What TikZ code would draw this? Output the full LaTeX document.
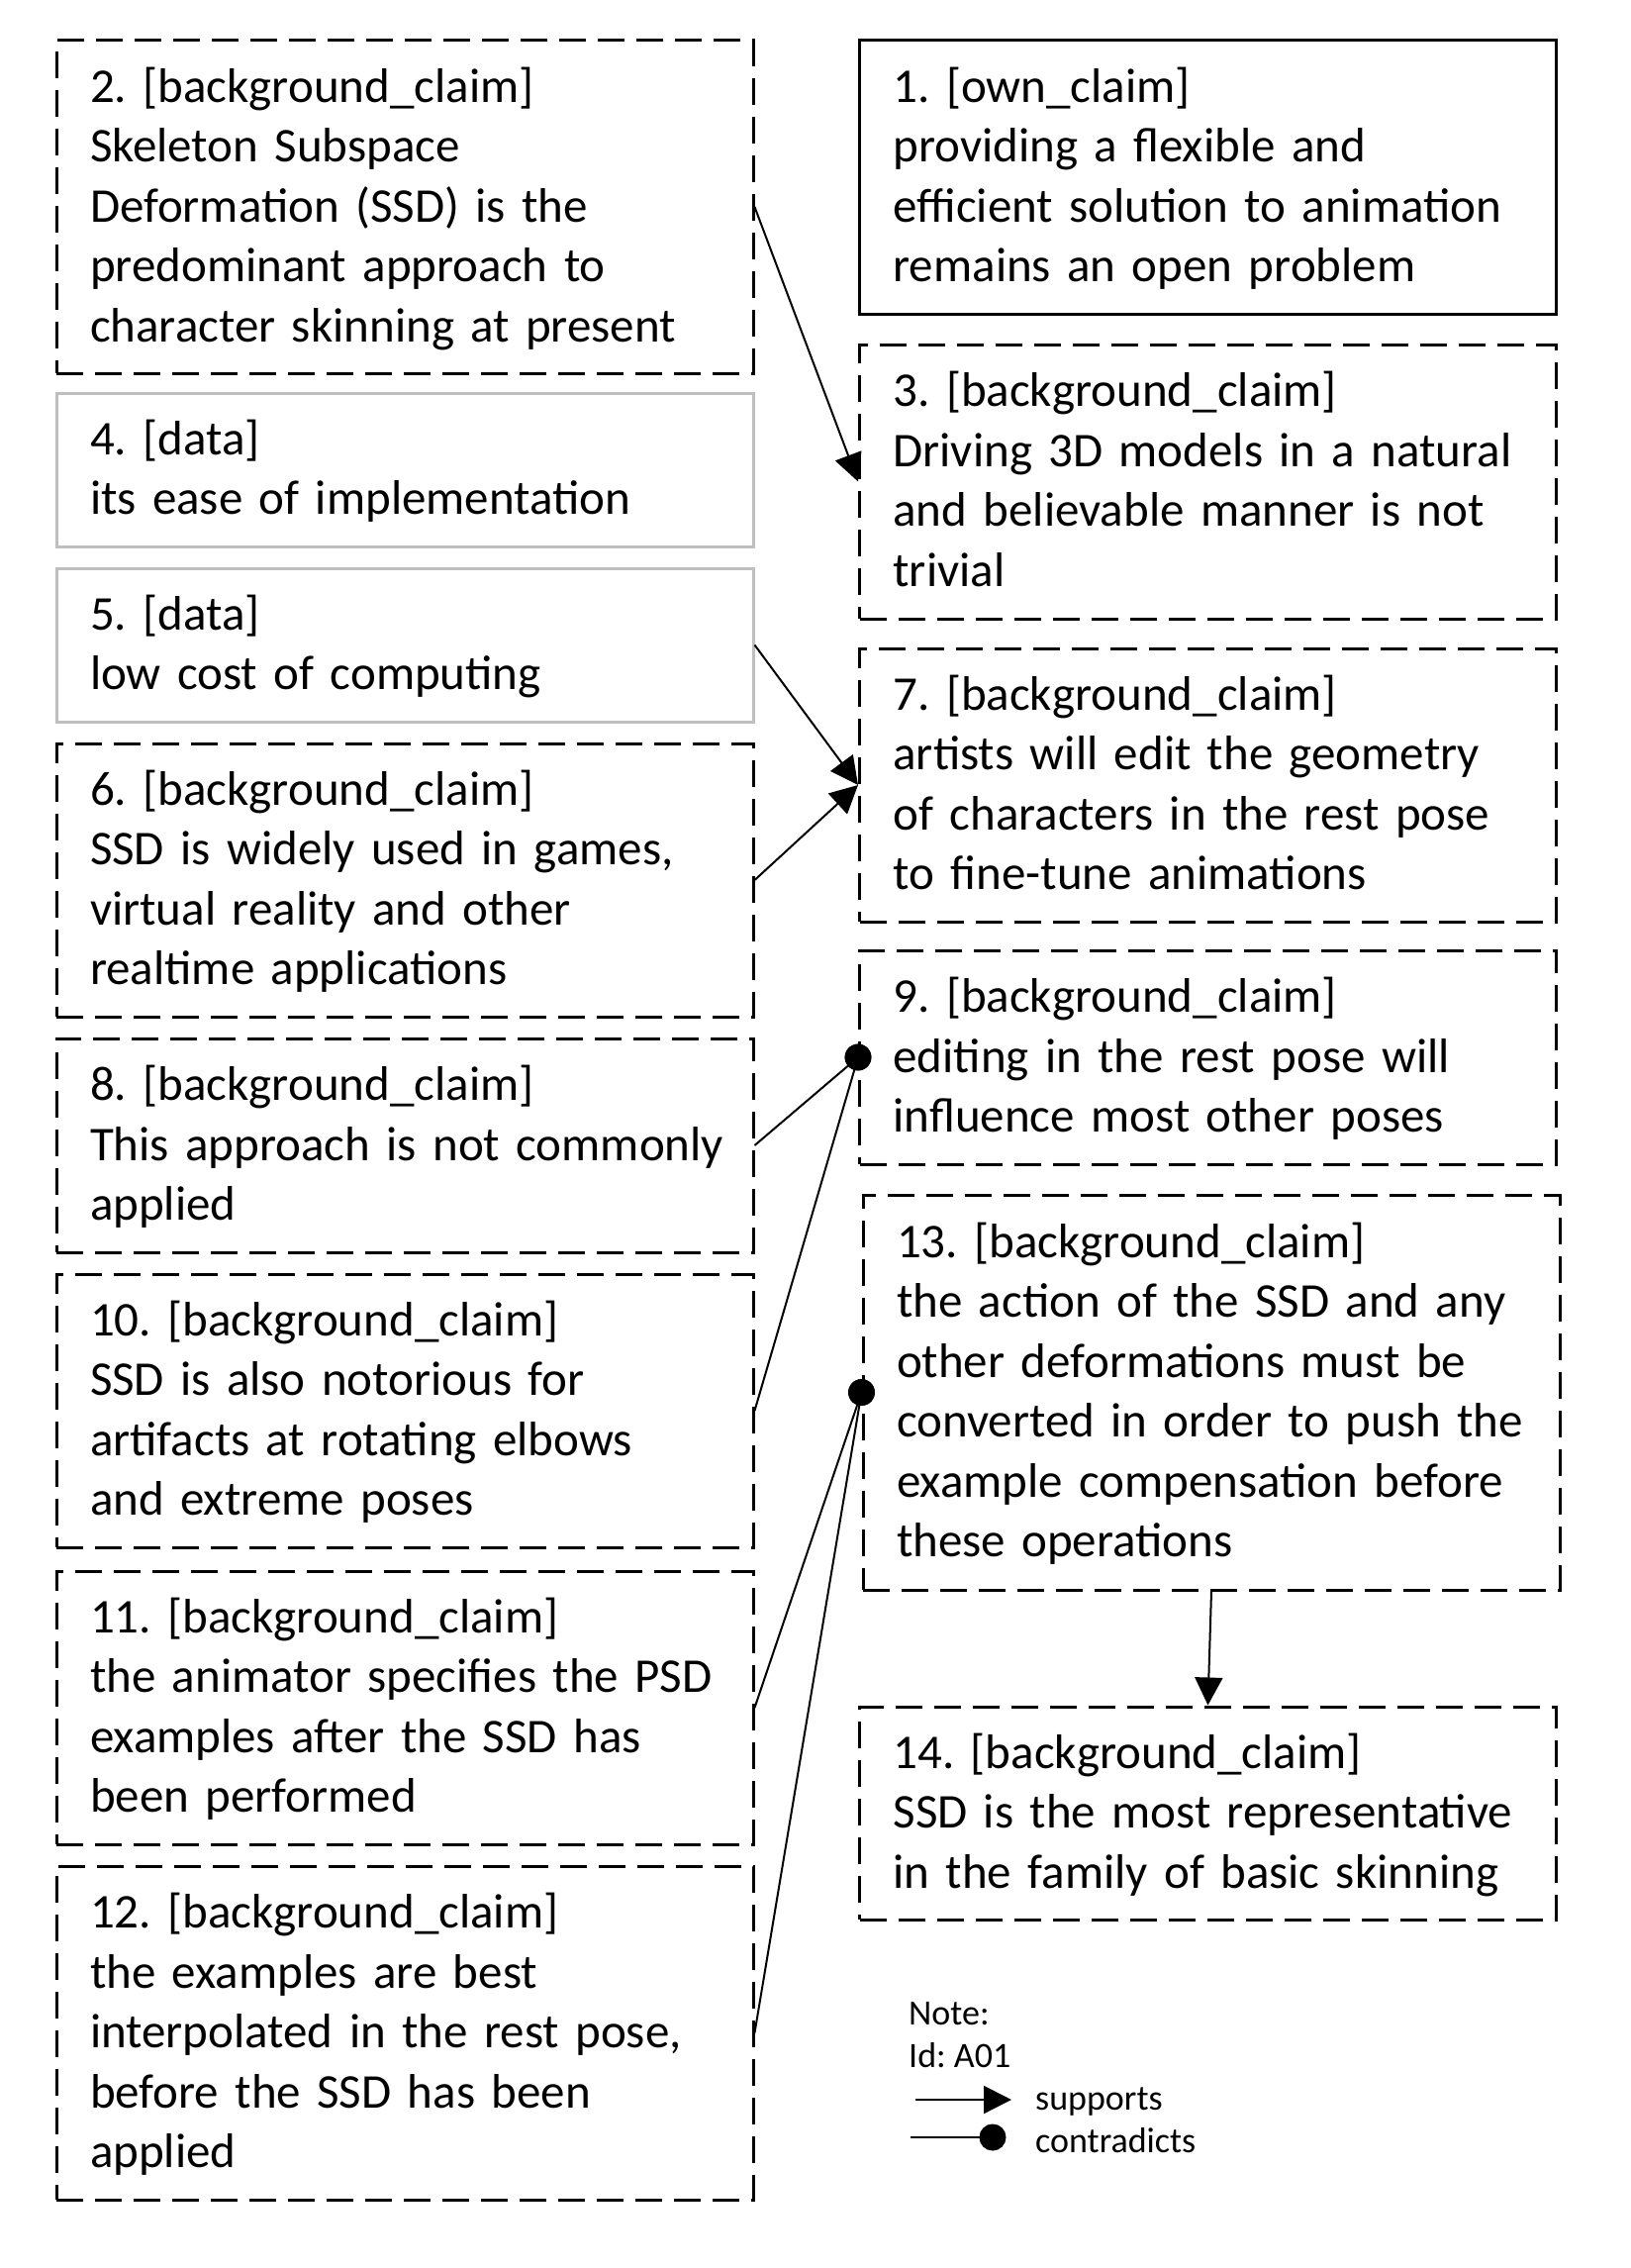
\documentclass[tikz,border=0pt]{standalone}
\usepackage{fontspec}
\setmainfont{Carlito}
\usetikzlibrary{arrows.meta}
\frenchspacing
\tikzset{
  claimbox/.style={draw=black, line width=3pt, dash pattern=on 27pt off 12pt,
    inner xsep=34pt, inner ysep=0pt, text width=636pt, align=left,
    font=\fontsize{49}{60.5}\selectfont\frenchspacing},
  ownbox/.style={claimbox, solid},
  databox/.style={claimbox, solid, draw=gray!50},
  supp/.style={line width=2pt, -{Triangle[length=28pt,width=28pt]}},
  contra/.style={line width=2pt, -{Circle[length=27pt]}, shorten >=-13.5pt},
  legtext/.style={anchor=base west, inner sep=0pt, font=\fontsize{36}{43}\selectfont}
}
\newcommand{\boxlines}[1]{\raisebox{0pt}[\dimexpr\height+6pt\relax][\depth]{\begin{tabular}{@{}l@{}}#1\end{tabular}}}
\begin{document}
\begin{tikzpicture}[x=1pt,y=-1pt]
\useasboundingbox (0,0) rectangle (1648,2291);
% left column
\node[claimbox, minimum height=336pt] (n2) at (409,209)
  {\boxlines{2. [background\_claim]\\Skeleton Subspace\\Deformation (SSD) is the\\predominant approach to\\character skinning at present}};
\node[databox, minimum height=155pt] (n4) at (409,474.5)
  {\boxlines{4. [data]\\its ease of implementation}};
\node[databox, minimum height=155pt] (n5) at (409,651.5)
  {\boxlines{5. [data]\\low cost of computing}};
\node[claimbox, minimum height=276pt] (n6) at (409,889)
  {\boxlines{6. [background\_claim]\\SSD is widely used in games,\\virtual reality and other\\realtime applications}};
\node[claimbox, minimum height=216pt] (n8) at (409,1157)
  {\boxlines{8. [background\_claim]\\This approach is not commonly\\applied}};
\node[claimbox, minimum height=276pt] (n10) at (409,1425)
  {\boxlines{10. [background\_claim]\\SSD is also notorious for\\artifacts at rotating elbows\\and extreme poses}};
\node[claimbox, minimum height=276pt] (n11) at (409,1725)
  {\boxlines{11. [background\_claim]\\the animator specifies the PSD\\examples after the SSD has\\been performed}};
\node[claimbox, minimum height=337pt] (n12) at (409,2053.5)
  {\boxlines{12. [background\_claim]\\the examples are best\\interpolated in the rest pose,\\before the SSD has been\\applied}};
% right column
\node[ownbox, minimum height=276pt] (n1) at (1220.5,179)
  {\boxlines{1. [own\_claim]\\providing a flexible and\\efficient solution to animation\\remains an open problem}};
\node[claimbox, minimum height=277pt] (n3) at (1220.5,486.5)
  {\boxlines{3. [background\_claim]\\Driving 3D models in a natural\\and believable manner is not\\trivial}};
\node[claimbox, minimum height=276pt] (n7) at (1220.5,793)
  {\boxlines{7. [background\_claim]\\artists will edit the geometry\\of characters in the rest pose\\to fine-tune animations}};
\node[claimbox, minimum height=216pt] (n9) at (1220.5,1068)
  {\boxlines{9. [background\_claim]\\editing in the rest pose will\\influence most other poses}};
\node[claimbox, minimum height=399pt] (n13) at (1224,1406.5)
  {\boxlines{13. [background\_claim]\\the action of the SSD and any\\other deformations must be\\converted in order to push the\\example compensation before\\these operations}};
\node[claimbox, minimum height=215pt] (n14) at (1220.5,1831.5)
  {\boxlines{14. [background\_claim]\\SSD is the most representative\\in the family of basic skinning}};
% connectors
\draw[supp] (n2.east) -- (n3.west);
\draw[supp] (n5.east) -- (n7.west);
\draw[supp] (n6.east) -- (n7.west);
\draw[contra] (n8.east) -- (n9.west);
\draw[contra] (n10.east) -- (n9.west);
\draw[contra] (n11.east) -- (n13.west);
\draw[contra] (n12.east) -- (n13.west);
\draw[supp] (n13.south) -- (n14.north);
% legend
\node[legtext] (note) at (918,2045) {Note:};
\node[legtext] (idn) at (918,2088) {Id: A01};
\coordinate (sa) at (925,2121);
\coordinate (sb) at (1022,2121);
\coordinate (ca) at (920,2159);
\coordinate (cb) at (1003,2159);
\draw[supp] (sa) -- (sb);
\draw[contra] (ca) -- (cb);
\node[legtext] (lsup) at (1046,2131) {supports};
\node[legtext] (lcon) at (1046,2174) {contradicts};
\end{tikzpicture}
\end{document}
